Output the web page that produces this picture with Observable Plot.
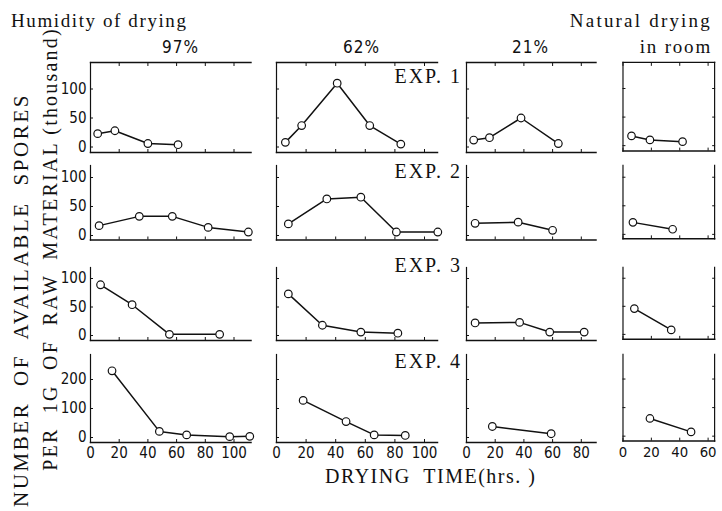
<!DOCTYPE html>
<html><head><meta charset="utf-8">
<script src="https://cdn.jsdelivr.net/npm/d3@7"></script>
<script src="https://cdn.jsdelivr.net/npm/@observablehq/plot@0.6"></script>
<style>
body{margin:0;background:#fff;}
#chart{position:relative;width:722px;height:511px;overflow:hidden;background:#fff;}
.lbl{position:absolute;white-space:pre;font-family:"Liberation Serif","DejaVu Serif",serif;color:#111;line-height:1;}
.num{font-family:"Liberation Sans Narrow","DejaVu Sans Condensed",Roboto,sans-serif;}
.panel{position:absolute;}
.panel svg{overflow:visible;background:transparent;}
</style></head><body><div id="chart"></div>
<script>
// ---- data ----
const humidityLevels = ["97%", "62%", "21%", "Natural drying in room"];
const experiments = ["EXP. 1", "EXP. 2", "EXP. 3", "EXP. 4"];

// drying time (hrs) and spores (thousand per 1 g raw material), one inner array per experiment
const hours97   = [[5, 17, 40, 61], [6, 34, 57, 82, 110], [7, 29, 55, 90], [15, 48, 67, 97, 111]];
const spores97  = [[23, 28, 6, 4], [17, 33, 33, 14, 6], [89, 54, 2, 2], [230, 21, 9, 3, 4]];
const hours62   = [[6, 17, 41, 63, 84], [8, 34, 57, 81, 109], [8, 31, 57, 82], [18, 47, 66, 87]];
const spores62  = [[8, 37, 110, 37, 5], [20, 63, 66, 6, 6], [73, 18, 6, 4], [128, 55, 9, 7]];
const hours21   = [[5, 16, 38, 64], [6, 36, 60], [6, 37, 58, 82], [18, 59]];
const spores21  = [[12, 16, 50, 6], [21, 23, 9], [22, 23, 6, 6], [38, 13]];
const hoursRoom = [[6, 19, 42], [7, 35], [8, 34], [19, 48]];
const sporesRoom= [[17, 10, 7], [21, 9], [46, 8], [62, 15]];

const xTickLabels = [[0, 20, 40, 60, 80, 100], [0, 20, 40, 60, 80, 100], [0, 20, 40, 60, 80], [0, 20, 40, 60]];
const yTickLabels = [[0, 50, 100], [0, 50, 100], [0, 50, 100], [0, 100, 200]];

const hoursByCol = [hours97, hours62, hours21, hoursRoom];
const sporesByCol = [spores97, spores62, spores21, sporesRoom];

// ---- layout (pixel geometry of panels) ----
const colGeom = [
  {left: 89.5, right: 250, pxPer: 1.435},
  {left: 276, right: 437, pxPer: 1.48},
  {left: 465.5, right: 595, pxPer: 1.435},
  {left: 623, right: 716, pxPer: 1.44}
];
const rowGeom = [
  {top: 62, bottom: 152, zero: 146.5, pxPer: 0.58},
  {top: 165, bottom: 239.5, zero: 235, pxPer: 0.58},
  {top: 267, bottom: 340, zero: 335, pxPer: 0.57},
  {top: 354, bottom: 442, zero: 437, pxPer: 0.29}
];

const chart = document.getElementById("chart");
const ML = 34, MR = 8, MT = 6, MB = 26;
const numFont = '"Liberation Sans Narrow","DejaVu Sans Condensed",Roboto,sans-serif';

for (let c = 0; c < 4; c++) {
  for (let r = 0; r < 4; r++) {
    const cg = colGeom[c], rg = rowGeom[r];
    const w = cg.right - cg.left, h = rg.bottom - rg.top;
    const xMax = w / cg.pxPer;
    const yMin = -(rg.bottom - rg.zero) / rg.pxPer;
    const yMax = (rg.zero - rg.top) / rg.pxPer;
    const data = hoursByCol[c][r].map((t, i) => ({t, v: sporesByCol[c][r][i]}));
    const blank = () => "";
    const marks = [
      Plot.frame({anchor: "left", stroke: "#111", strokeWidth: 1.2}),
      Plot.frame({anchor: "bottom", stroke: "#111", strokeWidth: 1.5}),
      Plot.axisX(xTickLabels[c], {anchor: "bottom", label: null, tickSize: -3, tickPadding: 8, stroke: "#111",
        tickFormat: r === 3 ? (d => String(d)) : blank, fontSize: 15, fontFamily: numFont, fill: "#111"}),
      Plot.axisY(yTickLabels[r], {anchor: "left", label: null, tickSize: -3, tickPadding: 7, stroke: "#111",
        tickFormat: c === 0 ? (d => String(d)) : blank, fontSize: 15, fontFamily: numFont, fill: "#111"}),
    ];
    if (r === 0) {
      marks.push(Plot.frame({anchor: "top", stroke: "#111", strokeWidth: 1.4}));
      marks.push(Plot.axisX(xTickLabels[c], {anchor: "top", label: null, tickSize: -3, tickFormat: blank, stroke: "#111"}));
    }
    if (c === 3) {
      marks.push(Plot.frame({anchor: "right", stroke: "#111", strokeWidth: 1.2}));
      marks.push(Plot.axisY(yTickLabels[r], {anchor: "right", label: null, tickSize: -3, tickFormat: blank, stroke: "#111"}));
    }
    marks.push(Plot.line(data, {x: "t", y: "v", stroke: "#111", strokeWidth: 1.5}));
    marks.push(Plot.dot(data, {x: "t", y: "v", r: 3.8, fill: "white", stroke: "#111", strokeWidth: 1.2}));

    const svg = Plot.plot({
      width: w + ML + MR, height: h + MT + MB,
      marginLeft: ML, marginRight: MR, marginTop: MT, marginBottom: MB,
      x: {domain: [0, xMax], label: null},
      y: {domain: [yMin, yMax], label: null},
      style: {background: "transparent", overflow: "visible", fontFamily: numFont},
      marks
    });
    const div = document.createElement("div");
    div.className = "panel";
    div.style.left = (cg.left - ML) + "px";
    div.style.top = (rg.top - MT) + "px";
    div.appendChild(svg);
    chart.appendChild(div);
  }
}

function label(text, css, cls) {
  const d = document.createElement("div");
  d.className = "lbl" + (cls ? " " + cls : "");
  d.textContent = text;
  Object.assign(d.style, css);
  chart.appendChild(d);
  return d;
}

label("Humidity of drying", {left: "11px", top: "11px", fontSize: "19px", letterSpacing: "1.6px"});
label(humidityLevels[0], {left: "162px", top: "39px", fontSize: "17px", letterSpacing: "1px"}, "num");
label(humidityLevels[1], {left: "343px", top: "39px", fontSize: "17px", letterSpacing: "1px"}, "num");
label(humidityLevels[2], {left: "512px", top: "39px", fontSize: "17px", letterSpacing: "1px"}, "num");
label("Natural drying", {right: "10px", top: "11px", fontSize: "19px", letterSpacing: "2.2px"});
label("in room", {right: "10px", top: "37px", fontSize: "19px", letterSpacing: "1.8px"});

const expTops = [66, 161, 255, 351];
experiments.forEach((e, i) => label(e, {right: (722 - 462) + "px", top: expTops[i] + "px", fontSize: "20px", letterSpacing: "2px"}));

// rotated y titles
function vlabel(text, cx, cy, len, css) {
  const d = label(text, Object.assign({
    width: len + "px", height: "24px", left: (cx - len / 2) + "px", top: (cy - 12) + "px",
    textAlign: "center", lineHeight: "24px", transform: "rotate(-90deg)", transformOrigin: "50% 50%"
  }, css));
  return d;
}
vlabel("NUMBER  OF  AVAILABLE  SPORES", 21, 300, 460, {fontSize: "21px", letterSpacing: "2.6px"});
vlabel("PER  1G  OF  RAW  MATERIAL (thousand)", 50, 249, 480, {fontSize: "20px", letterSpacing: "2.2px"});

label("DRYING  TIME(hrs. )", {left: "325px", top: "466px", fontSize: "20px", letterSpacing: "1.5px"});
</script></body></html>
